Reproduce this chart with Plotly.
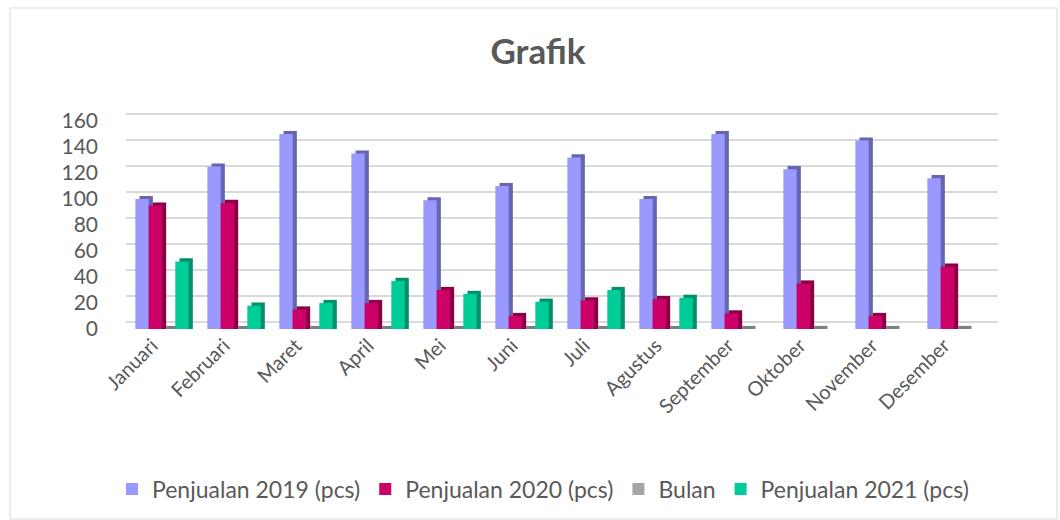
import plotly.graph_objects as go

months = ['Januari', 'Februari', 'Maret', 'April', 'Mei', 'Juni', 'Juli',
          'Agustus', 'September', 'Oktober', 'November', 'Desember']
sales_2019 = [100, 125, 150, 135, 99, 110, 132, 100, 150, 123, 145, 116]
sales_2020 = [95, 97, 15, 20, 30, 10, 22, 23, 12, 35, 10, 48]
bulan = [0, 0, 0, 0, 0, 0, 0, 0, 0, 0, 0, 0]
sales_2021 = [52, 18, 20, 37, 27, 21, 30, 24, None, None, None, None]

series = [
    ('Penjualan 2019 (pcs)', sales_2019, '#9999FF', '#6666B0'),
    ('Penjualan 2020 (pcs)', sales_2020, '#CC0066', '#8C0047'),
    ('Bulan', bulan, '#A5A5A5', '#7F7F7F'),
    ('Penjualan 2021 (pcs)', sales_2021, '#00CC99', '#008F6B'),
]

BAR_W = 0.185      # front face width (category units)
DEPTH_X = 0.058    # 3D depth, horizontal (category units)
DEPTH_Y = 2.4      # 3D depth, vertical (value units)
TEXT = '#595959'
FONT = 'Lato'

fig = go.Figure()
for i, (name, vals, front, side) in enumerate(series):
    off = -2 * BAR_W + i * BAR_W
    depth_vals = [None if v is None else v + DEPTH_Y for v in vals]
    fig.add_trace(go.Bar(
        x=months, y=depth_vals, width=BAR_W, offset=off + DEPTH_X,
        marker=dict(color=side, line=dict(width=0)),
        showlegend=False, hoverinfo='skip'))
    fig.add_trace(go.Bar(
        x=months, y=vals, width=BAR_W, offset=off, name=name,
        marker=dict(color=front, line=dict(width=0))))

# invisible trace to carry the back-wall gridline axis
fig.add_trace(go.Scatter(x=[], y=[], yaxis='y2', showlegend=False, hoverinfo='skip'))

L, R, T, B = 126, 62, 110, 191
W, H = 1060, 520
pw, ph = W - L - R, H - T - B
ticks = [0, 20, 40, 60, 80, 100, 120, 140, 160]

fig.update_layout(
    width=W, height=H,
    margin=dict(l=L, r=R, t=T, b=B),
    barmode='overlay',
    paper_bgcolor='white', plot_bgcolor='rgba(0,0,0,0)',
    font=dict(family=FONT, color=TEXT),
    title=dict(text='<b>Grafik</b>', x=538 / W, xanchor='center',
               y=1 - 52 / H, yref='container', yanchor='middle',
               font=dict(size=35, color=TEXT, family=FONT)),
    xaxis=dict(range=[-0.5, 11.5 + 8 / 72], tickangle=-45, showgrid=False,
               zeroline=False, showline=False, ticks='',
               ticklabelshift=-10,
               tickfont=dict(size=20, color=TEXT, family=FONT)),
    yaxis=dict(range=[0, 168.5], tickvals=ticks,
               showgrid=False, zeroline=False, showline=False, ticks='',
               ticklabelstandoff=27,
               tickfont=dict(size=21, color=TEXT, family=FONT)),
    yaxis2=dict(range=[-5.4, 163.1], overlaying='y', side='left',
                tickvals=ticks,
                showticklabels=False, showgrid=True, gridcolor='#D9D9D9',
                gridwidth=2, zeroline=False, showline=False, ticks=''),
    legend=dict(orientation='h', x=543 / W, xanchor='center', xref='container',
                y=1 - 489 / H, yref='container', yanchor='middle',
                font=dict(size=23, color=TEXT, family=FONT),
                itemwidth=30, bgcolor='rgba(0,0,0,0)'),
    shapes=[dict(type='rect', xref='paper', yref='paper',
                 x0=(10 - L) / pw, x1=(1057 - L) / pw,
                 y0=(H - B - 519) / ph, y1=(H - B - 8) / ph,
                 line=dict(color='#D9D9D9', width=1), layer='below')],
)

fig.write_html('out.html')
